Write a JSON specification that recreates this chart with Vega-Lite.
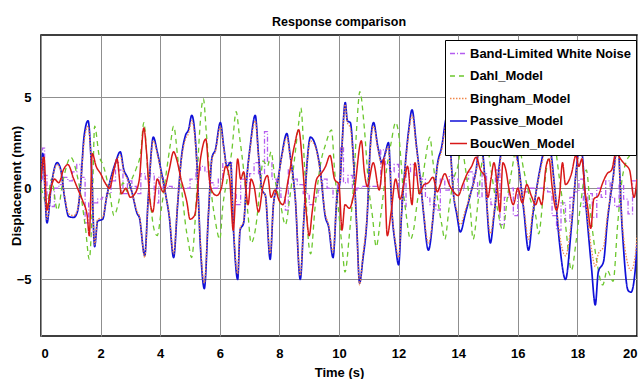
{
  "$schema": "https://vega.github.io/schema/vega-lite/v6.json",
  "width": 596,
  "height": 301,
  "autosize": {"type": "none"},
  "padding": {"left": 41, "top": 35, "right": 5, "bottom": 43},
  "background": "white",
  "title": {"text": "Response comparison", "fontSize": 12.5, "font": "Liberation Sans", "fontWeight": "bold", "color": "black", "offset": 7},
  "config": {
    "view": {"stroke": "black", "strokeWidth": 1.5},
    "axis": {
      "labelFont": "Liberation Sans", "labelFontWeight": "bold", "labelFontSize": 13, "labelColor": "black",
      "titleFont": "Liberation Sans", "titleFontWeight": "bold", "titleFontSize": 13, "titleColor": "black",
      "gridColor": "#8f8f8f", "gridWidth": 1, "gridOpacity": 1,
      "domain": false, "ticks": false
    },
    "legend": {
      "orient": "none", "legendX": 404, "legendY": 5,
      "strokeColor": "black", "fillColor": "white", "padding": 4,
      "labelFont": "Liberation Sans", "labelFontWeight": "bold", "labelFontSize": 13, "labelColor": "black", "labelLimit": 300,
      "symbolType": "stroke", "symbolSize": 290, "symbolStrokeWidth": 1.5, "rowPadding": 5.5, "labelOffset": 2
    }
  },
  "datasets": {
    "noise": [
      {"t":0.0,"v":0.5},{"t":0.05,"v":2.2},{"t":0.12,"v":0.7},{"t":0.2,"v":-0.6},{"t":0.3,"v":-1.0},{"t":0.45,"v":0.0},{"t":0.6,"v":0.2},{"t":0.75,"v":0.6},{"t":0.9,"v":0.4},{"t":1.05,"v":0.9},{"t":1.2,"v":1.3},{"t":1.35,"v":0.6},{"t":1.48,"v":-1.9},{"t":1.6,"v":-0.8},{"t":1.75,"v":-0.8},{"t":1.9,"v":-0.6},{"t":2.05,"v":-0.5},{"t":2.2,"v":-0.3},{"t":2.35,"v":0.4},{"t":2.5,"v":1.4},{"t":2.6,"v":1.0},{"t":2.75,"v":-0.3},{"t":2.9,"v":0.4},{"t":3.05,"v":0.1},{"t":3.2,"v":-0.3},{"t":3.35,"v":0.8},{"t":3.5,"v":0.5},{"t":3.65,"v":0.8},{"t":3.8,"v":-0.8},{"t":3.95,"v":0.6},{"t":4.1,"v":0.0},{"t":4.25,"v":0.1},{"t":4.4,"v":0.0},{"t":4.55,"v":0.0},{"t":4.7,"v":0.0},{"t":4.85,"v":0.0},{"t":5.0,"v":0.5},{"t":5.2,"v":1.0},{"t":5.35,"v":1.2},{"t":5.5,"v":0.9},{"t":5.65,"v":0.3},{"t":5.8,"v":0.0},{"t":5.95,"v":0.5},{"t":6.1,"v":1.4},{"t":6.25,"v":1.4},{"t":6.4,"v":-0.3},{"t":6.55,"v":-0.9},{"t":6.7,"v":0.5},{"t":6.85,"v":0.0},{"t":7.0,"v":0.8},{"t":7.15,"v":1.4},{"t":7.3,"v":0.8},{"t":7.5,"v":3.1},{"t":7.6,"v":1.4},{"t":7.75,"v":0.5},{"t":7.9,"v":0.0},{"t":8.05,"v":-0.5},{"t":8.2,"v":-1.2},{"t":8.3,"v":1.0},{"t":8.45,"v":0.5},{"t":8.6,"v":0.2},{"t":8.8,"v":-0.3},{"t":9.0,"v":-0.9},{"t":9.15,"v":-0.5},{"t":9.3,"v":-0.1},{"t":9.45,"v":0.5},{"t":9.6,"v":0.0},{"t":9.8,"v":-0.5},{"t":9.95,"v":0.3},{"t":10.05,"v":2.3},{"t":10.15,"v":0.3},{"t":10.3,"v":0.7},{"t":10.45,"v":-0.1},{"t":10.6,"v":0.0},{"t":10.8,"v":0.1},{"t":11.0,"v":0.1},{"t":11.2,"v":0.1},{"t":11.4,"v":2.1},{"t":11.55,"v":1.3},{"t":11.7,"v":0.9},{"t":11.85,"v":1.3},{"t":12.0,"v":-0.5},{"t":12.1,"v":-1.0},{"t":12.25,"v":0.8},{"t":12.4,"v":1.3},{"t":12.55,"v":0.7},{"t":12.75,"v":0.5},{"t":12.9,"v":-0.5},{"t":13.05,"v":-0.9},{"t":13.25,"v":-1.2},{"t":13.4,"v":0.5},{"t":13.55,"v":-0.1},{"t":13.7,"v":0.7},{"t":13.85,"v":0.5},{"t":14.0,"v":-0.1},{"t":14.2,"v":0.5},{"t":14.35,"v":0.9},{"t":14.5,"v":0.3},{"t":14.65,"v":-0.5},{"t":14.8,"v":0.8},{"t":14.95,"v":-0.6},{"t":15.1,"v":-0.9},{"t":15.25,"v":1.0},{"t":15.4,"v":-2.0},{"t":15.55,"v":-0.5},{"t":15.7,"v":0.0},{"t":15.85,"v":-1.5},{"t":16.0,"v":0.0},{"t":16.2,"v":-0.2},{"t":16.4,"v":0.0},{"t":16.6,"v":0.0},{"t":16.8,"v":0.0},{"t":17.0,"v":-0.2},{"t":17.15,"v":-1.5},{"t":17.3,"v":-2.3},{"t":17.45,"v":-0.8},{"t":17.6,"v":-1.8},{"t":17.75,"v":-0.5},{"t":17.9,"v":-0.2},{"t":18.05,"v":0.5},{"t":18.2,"v":-1.0},{"t":18.35,"v":-0.3},{"t":18.5,"v":-1.6},{"t":18.65,"v":0.0},{"t":18.8,"v":-0.5},{"t":18.95,"v":0.4},{"t":19.1,"v":-0.5},{"t":19.25,"v":-1.0},{"t":19.4,"v":0.2},{"t":19.55,"v":-0.6},{"t":19.7,"v":-1.4},{"t":19.85,"v":0.4},{"t":20.0,"v":0.0}
    ],
    "dahl": [
      {"t":0.0,"v":0.0},{"t":0.1,"v":-0.5},{"t":0.2,"v":-1.0},{"t":0.35,"v":0.5},{"t":0.55,"v":-1.2},{"t":0.75,"v":0.5},{"t":1.0,"v":1.7},{"t":1.2,"v":0.8},{"t":1.35,"v":-0.5},{"t":1.5,"v":-2.3},{"t":1.62,"v":-3.9},{"t":1.72,"v":-1.0},{"t":1.8,"v":3.4},{"t":1.95,"v":1.8},{"t":2.1,"v":1.2},{"t":2.3,"v":-0.2},{"t":2.45,"v":-1.5},{"t":2.6,"v":-0.8},{"t":2.75,"v":0.3},{"t":2.9,"v":-0.2},{"t":3.05,"v":0.5},{"t":3.2,"v":1.1},{"t":3.35,"v":2.0},{"t":3.45,"v":3.6},{"t":3.6,"v":0.5},{"t":3.8,"v":-2.3},{"t":3.9,"v":-2.6},{"t":4.05,"v":-1.0},{"t":4.2,"v":0.8},{"t":4.35,"v":2.5},{"t":4.45,"v":3.4},{"t":4.6,"v":1.5},{"t":4.75,"v":-0.5},{"t":4.85,"v":-2.0},{"t":4.95,"v":-3.0},{"t":5.05,"v":-3.8},{"t":5.2,"v":-1.0},{"t":5.3,"v":2.5},{"t":5.45,"v":4.9},{"t":5.55,"v":3.0},{"t":5.7,"v":0.0},{"t":5.85,"v":-1.8},{"t":6.0,"v":-2.8},{"t":6.1,"v":-1.0},{"t":6.25,"v":0.5},{"t":6.4,"v":2.0},{"t":6.55,"v":4.2},{"t":6.65,"v":3.0},{"t":6.8,"v":1.0},{"t":6.95,"v":-1.5},{"t":7.05,"v":-3.0},{"t":7.2,"v":-2.2},{"t":7.35,"v":0.0},{"t":7.45,"v":1.5},{"t":7.6,"v":1.2},{"t":7.72,"v":2.0},{"t":7.85,"v":0.5},{"t":8.05,"v":-1.0},{"t":8.2,"v":-2.0},{"t":8.35,"v":-0.5},{"t":8.5,"v":1.5},{"t":8.65,"v":3.6},{"t":8.72,"v":4.4},{"t":8.85,"v":1.0},{"t":8.98,"v":-3.0},{"t":9.05,"v":-3.6},{"t":9.2,"v":-1.0},{"t":9.4,"v":1.5},{"t":9.55,"v":2.4},{"t":9.75,"v":3.2},{"t":9.85,"v":1.0},{"t":10.0,"v":-1.5},{"t":10.12,"v":-3.5},{"t":10.2,"v":-4.6},{"t":10.35,"v":-2.5},{"t":10.5,"v":0.5},{"t":10.6,"v":3.5},{"t":10.7,"v":5.3},{"t":10.85,"v":3.3},{"t":11.0,"v":0.0},{"t":11.12,"v":-1.5},{"t":11.25,"v":-3.2},{"t":11.4,"v":-1.5},{"t":11.55,"v":0.5},{"t":11.75,"v":2.5},{"t":11.9,"v":3.6},{"t":12.0,"v":3.0},{"t":12.15,"v":0.0},{"t":12.25,"v":-1.4},{"t":12.4,"v":-2.8},{"t":12.5,"v":-2.3},{"t":12.65,"v":-0.5},{"t":12.8,"v":0.5},{"t":12.9,"v":1.6},{"t":13.05,"v":2.8},{"t":13.15,"v":1.5},{"t":13.3,"v":-0.5},{"t":13.45,"v":-2.0},{"t":13.55,"v":-2.8},{"t":13.7,"v":-1.0},{"t":13.85,"v":0.5},{"t":14.0,"v":1.3},{"t":14.1,"v":2.3},{"t":14.25,"v":1.0},{"t":14.4,"v":-1.0},{"t":14.5,"v":-2.8},{"t":14.65,"v":-1.0},{"t":14.8,"v":1.5},{"t":14.95,"v":2.5},{"t":15.1,"v":1.0},{"t":15.3,"v":-1.0},{"t":15.5,"v":-2.3},{"t":15.65,"v":-0.5},{"t":15.8,"v":1.0},{"t":16.0,"v":2.5},{"t":16.2,"v":1.0},{"t":16.4,"v":-0.5},{"t":16.6,"v":-1.5},{"t":16.7,"v":-2.5},{"t":16.85,"v":-0.5},{"t":17.0,"v":1.5},{"t":17.2,"v":2.5},{"t":17.4,"v":0.5},{"t":17.6,"v":-2.0},{"t":17.8,"v":-4.5},{"t":17.95,"v":-3.0},{"t":18.1,"v":-1.0},{"t":18.3,"v":1.0},{"t":18.45,"v":-1.5},{"t":18.65,"v":-4.0},{"t":18.85,"v":-5.3},{"t":19.0,"v":-4.5},{"t":19.2,"v":-5.1},{"t":19.35,"v":-2.0},{"t":19.5,"v":0.5},{"t":19.65,"v":1.5},{"t":19.8,"v":2.0},{"t":19.9,"v":3.7},{"t":20.0,"v":5.0}
    ],
    "bingham": [
      {"t":0.0,"v":0.3},{"t":0.06,"v":1.7},{"t":0.2,"v":-1.7},{"t":0.35,"v":0.2},{"t":0.54,"v":1.3},{"t":0.65,"v":1.0},{"t":0.8,"v":-0.5},{"t":0.93,"v":-1.4},{"t":1.1,"v":-1.5},{"t":1.22,"v":-1.2},{"t":1.32,"v":0.0},{"t":1.45,"v":2.6},{"t":1.58,"v":3.4},{"t":1.7,"v":0.9},{"t":1.8,"v":-3.1},{"t":1.9,"v":-1.7},{"t":2.07,"v":-1.6},{"t":2.2,"v":-0.5},{"t":2.35,"v":0.5},{"t":2.5,"v":1.3},{"t":2.66,"v":1.8},{"t":2.78,"v":0.9},{"t":2.9,"v":0.5},{"t":3.05,"v":-0.2},{"t":3.23,"v":-1.3},{"t":3.3,"v":-1.5},{"t":3.48,"v":-3.8},{"t":3.6,"v":-0.5},{"t":3.77,"v":2.6},{"t":3.9,"v":1.9},{"t":4.05,"v":0.7},{"t":4.2,"v":-0.5},{"t":4.3,"v":-1.4},{"t":4.45,"v":-3.6},{"t":4.58,"v":-0.9},{"t":4.7,"v":1.4},{"t":4.85,"v":2.7},{"t":4.95,"v":3.0},{"t":5.06,"v":3.7},{"t":5.23,"v":1.3},{"t":5.35,"v":-3.0},{"t":5.48,"v":-5.2},{"t":5.62,"v":-1.3},{"t":5.74,"v":1.6},{"t":5.85,"v":2.0},{"t":6.02,"v":3.4},{"t":6.13,"v":2.2},{"t":6.24,"v":1.1},{"t":6.36,"v":1.3},{"t":6.46,"v":-2.1},{"t":6.6,"v":-4.7},{"t":6.68,"v":-2.2},{"t":6.8,"v":-1.8},{"t":6.9,"v":0.4},{"t":7.02,"v":2.2},{"t":7.19,"v":3.7},{"t":7.3,"v":1.7},{"t":7.42,"v":-0.1},{"t":7.53,"v":-0.4},{"t":7.69,"v":-3.6},{"t":7.8,"v":-0.9},{"t":7.92,"v":0.1},{"t":8.08,"v":1.7},{"t":8.25,"v":2.8},{"t":8.36,"v":1.7},{"t":8.53,"v":-0.5},{"t":8.7,"v":-4.8},{"t":8.82,"v":-1.6},{"t":8.93,"v":1.3},{"t":9.04,"v":2.6},{"t":9.2,"v":2.3},{"t":9.37,"v":0.9},{"t":9.54,"v":-1.4},{"t":9.65,"v":-2.0},{"t":9.8,"v":-3.5},{"t":9.93,"v":-0.5},{"t":10.04,"v":0.4},{"t":10.1,"v":2.2},{"t":10.21,"v":4.6},{"t":10.28,"v":3.6},{"t":10.38,"v":3.3},{"t":10.49,"v":1.3},{"t":10.6,"v":-2.3},{"t":10.69,"v":-5.3},{"t":10.8,"v":-3.7},{"t":10.95,"v":-1.3},{"t":11.05,"v":2.1},{"t":11.16,"v":3.4},{"t":11.3,"v":2.2},{"t":11.44,"v":1.3},{"t":11.55,"v":1.8},{"t":11.66,"v":2.3},{"t":11.78,"v":-1.3},{"t":11.9,"v":-3.0},{"t":12.0,"v":-3.8},{"t":12.1,"v":-1.3},{"t":12.23,"v":1.3},{"t":12.34,"v":3.0},{"t":12.45,"v":4.0},{"t":12.6,"v":2.2},{"t":12.73,"v":0.4},{"t":12.84,"v":-1.3},{"t":13.0,"v":-3.0},{"t":13.15,"v":-1.6},{"t":13.28,"v":0.9},{"t":13.45,"v":2.1},{"t":13.62,"v":3.6},{"t":13.73,"v":2.1},{"t":13.84,"v":-0.3},{"t":13.95,"v":-1.2},{"t":14.07,"v":-2.0},{"t":14.24,"v":-1.2},{"t":14.4,"v":-0.4},{"t":14.6,"v":0.9},{"t":14.75,"v":2.5},{"t":14.9,"v":0.4},{"t":15.08,"v":-2.5},{"t":15.2,"v":-1.3},{"t":15.4,"v":1.3},{"t":15.6,"v":3.0},{"t":15.85,"v":2.2},{"t":16.0,"v":1.3},{"t":16.2,"v":-1.0},{"t":16.36,"v":-2.8},{"t":16.5,"v":-1.3},{"t":16.8,"v":1.3},{"t":17.0,"v":2.4},{"t":17.25,"v":-0.2},{"t":17.4,"v":-2.5},{"t":17.6,"v":-3.7},{"t":17.8,"v":-1.8},{"t":17.95,"v":0.7},{"t":18.1,"v":2.1},{"t":18.3,"v":-1.0},{"t":18.47,"v":-3.3},{"t":18.6,"v":-4.3},{"t":18.7,"v":-3.6},{"t":18.88,"v":-3.2},{"t":19.0,"v":-1.6},{"t":19.2,"v":0.5},{"t":19.35,"v":2.1},{"t":19.5,"v":-1.8},{"t":19.7,"v":-4.2},{"t":19.8,"v":-4.5},{"t":19.95,"v":-3.6},{"t":20.0,"v":-2.6}
    ],
    "passive": [
      {"t":0.0,"v":0.3},{"t":0.06,"v":1.9},{"t":0.2,"v":-1.9},{"t":0.35,"v":0.2},{"t":0.54,"v":1.4},{"t":0.65,"v":1.1},{"t":0.8,"v":-0.6},{"t":0.93,"v":-1.55},{"t":1.1,"v":-1.6},{"t":1.22,"v":-1.3},{"t":1.32,"v":0.0},{"t":1.45,"v":2.9},{"t":1.58,"v":3.7},{"t":1.7,"v":0.9},{"t":1.8,"v":-3.2},{"t":1.9,"v":-1.8},{"t":2.07,"v":-1.7},{"t":2.2,"v":-0.5},{"t":2.35,"v":0.6},{"t":2.5,"v":1.4},{"t":2.66,"v":2.0},{"t":2.78,"v":1.0},{"t":2.9,"v":0.6},{"t":3.05,"v":-0.2},{"t":3.23,"v":-1.4},{"t":3.3,"v":-1.6},{"t":3.48,"v":-3.7},{"t":3.6,"v":-0.5},{"t":3.77,"v":2.8},{"t":3.9,"v":2.0},{"t":4.05,"v":0.8},{"t":4.2,"v":-0.5},{"t":4.3,"v":-1.5},{"t":4.45,"v":-3.8},{"t":4.58,"v":-1.0},{"t":4.7,"v":1.5},{"t":4.85,"v":2.9},{"t":4.95,"v":3.2},{"t":5.06,"v":4.0},{"t":5.23,"v":1.4},{"t":5.35,"v":-3.2},{"t":5.48,"v":-5.5},{"t":5.62,"v":-1.4},{"t":5.74,"v":1.7},{"t":5.85,"v":2.1},{"t":6.02,"v":3.6},{"t":6.13,"v":2.3},{"t":6.24,"v":1.2},{"t":6.36,"v":1.4},{"t":6.46,"v":-2.3},{"t":6.6,"v":-5.0},{"t":6.68,"v":-2.3},{"t":6.8,"v":-1.9},{"t":6.9,"v":0.45},{"t":7.02,"v":2.3},{"t":7.19,"v":4.0},{"t":7.3,"v":1.8},{"t":7.42,"v":-0.1},{"t":7.53,"v":-0.4},{"t":7.69,"v":-3.9},{"t":7.8,"v":-0.9},{"t":7.92,"v":0.1},{"t":8.08,"v":1.8},{"t":8.25,"v":3.0},{"t":8.36,"v":1.8},{"t":8.53,"v":-0.5},{"t":8.7,"v":-5.0},{"t":8.82,"v":-1.7},{"t":8.93,"v":1.4},{"t":9.04,"v":2.8},{"t":9.2,"v":2.4},{"t":9.37,"v":1.0},{"t":9.54,"v":-1.55},{"t":9.65,"v":-2.1},{"t":9.8,"v":-3.8},{"t":9.93,"v":-0.5},{"t":10.04,"v":0.45},{"t":10.1,"v":2.3},{"t":10.21,"v":4.7},{"t":10.28,"v":3.7},{"t":10.38,"v":3.6},{"t":10.49,"v":1.4},{"t":10.6,"v":-2.3},{"t":10.69,"v":-5.2},{"t":10.8,"v":-3.9},{"t":10.95,"v":-1.4},{"t":11.05,"v":2.3},{"t":11.16,"v":3.6},{"t":11.3,"v":2.3},{"t":11.44,"v":1.4},{"t":11.55,"v":1.9},{"t":11.66,"v":2.5},{"t":11.78,"v":-1.4},{"t":11.9,"v":-3.2},{"t":12.0,"v":-4.2},{"t":12.1,"v":-1.4},{"t":12.23,"v":1.4},{"t":12.34,"v":3.2},{"t":12.45,"v":4.3},{"t":12.6,"v":2.3},{"t":12.73,"v":0.45},{"t":12.84,"v":-1.4},{"t":13.0,"v":-3.4},{"t":13.15,"v":-1.7},{"t":13.28,"v":1.0},{"t":13.45,"v":2.3},{"t":13.62,"v":3.9},{"t":13.73,"v":2.3},{"t":13.84,"v":-0.3},{"t":13.95,"v":-1.4},{"t":14.07,"v":-2.4},{"t":14.24,"v":-1.4},{"t":14.4,"v":-0.4},{"t":14.6,"v":1.0},{"t":14.75,"v":2.8},{"t":14.9,"v":0.5},{"t":15.08,"v":-3.0},{"t":15.2,"v":-1.5},{"t":15.4,"v":1.5},{"t":15.6,"v":3.5},{"t":15.85,"v":2.5},{"t":16.0,"v":1.5},{"t":16.2,"v":-1.2},{"t":16.36,"v":-3.4},{"t":16.5,"v":-1.5},{"t":16.8,"v":1.5},{"t":17.0,"v":2.8},{"t":17.25,"v":-0.2},{"t":17.4,"v":-3.0},{"t":17.6,"v":-5.0},{"t":17.8,"v":-2.1},{"t":17.95,"v":0.8},{"t":18.1,"v":2.5},{"t":18.3,"v":-1.2},{"t":18.47,"v":-4.3},{"t":18.6,"v":-6.4},{"t":18.7,"v":-4.6},{"t":18.88,"v":-4.0},{"t":19.0,"v":-1.9},{"t":19.2,"v":0.6},{"t":19.35,"v":2.5},{"t":19.5,"v":-2.1},{"t":19.7,"v":-5.6},{"t":19.8,"v":-5.7},{"t":19.95,"v":-4.3},{"t":20.0,"v":-3.0}
    ],
    "boucwen": [
      {"t":0.0,"v":0.5},{"t":0.1,"v":1.7},{"t":0.2,"v":-1.2},{"t":0.3,"v":-0.3},{"t":0.45,"v":0.5},{"t":0.6,"v":0.3},{"t":0.75,"v":1.0},{"t":0.9,"v":1.3},{"t":1.1,"v":0.5},{"t":1.25,"v":-0.1},{"t":1.4,"v":-0.7},{"t":1.55,"v":-1.5},{"t":1.62,"v":-2.6},{"t":1.72,"v":1.9},{"t":1.85,"v":1.2},{"t":2.0,"v":0.8},{"t":2.15,"v":0.3},{"t":2.3,"v":0.0},{"t":2.45,"v":1.0},{"t":2.55,"v":1.6},{"t":2.7,"v":-0.3},{"t":2.85,"v":0.0},{"t":3.0,"v":-0.5},{"t":3.15,"v":-0.3},{"t":3.3,"v":0.5},{"t":3.45,"v":3.3},{"t":3.55,"v":1.8},{"t":3.65,"v":-0.6},{"t":3.75,"v":-1.3},{"t":3.9,"v":0.5},{"t":4.1,"v":-0.2},{"t":4.3,"v":1.0},{"t":4.45,"v":2.0},{"t":4.55,"v":1.6},{"t":4.7,"v":0.5},{"t":4.9,"v":-0.8},{"t":5.0,"v":-1.7},{"t":5.15,"v":-1.5},{"t":5.36,"v":1.7},{"t":5.53,"v":2.7},{"t":5.65,"v":0.5},{"t":5.75,"v":-0.2},{"t":5.9,"v":-0.4},{"t":6.05,"v":0.0},{"t":6.2,"v":1.2},{"t":6.33,"v":0.5},{"t":6.45,"v":-2.3},{"t":6.6,"v":1.6},{"t":6.7,"v":0.5},{"t":6.8,"v":0.9},{"t":6.95,"v":-0.9},{"t":7.05,"v":0.5},{"t":7.15,"v":0.1},{"t":7.3,"v":-1.3},{"t":7.45,"v":0.1},{"t":7.6,"v":0.7},{"t":7.72,"v":-0.5},{"t":7.85,"v":-0.1},{"t":8.0,"v":-0.7},{"t":8.12,"v":-0.9},{"t":8.3,"v":0.5},{"t":8.5,"v":2.3},{"t":8.65,"v":3.2},{"t":8.78,"v":1.2},{"t":8.9,"v":-1.3},{"t":9.0,"v":-2.6},{"t":9.1,"v":-1.3},{"t":9.25,"v":0.5},{"t":9.4,"v":0.8},{"t":9.55,"v":1.2},{"t":9.7,"v":1.8},{"t":9.85,"v":0.5},{"t":10.0,"v":0.2},{"t":10.1,"v":-2.3},{"t":10.2,"v":-0.9},{"t":10.35,"v":-1.1},{"t":10.5,"v":-0.3},{"t":10.75,"v":2.6},{"t":10.85,"v":0.9},{"t":10.95,"v":0.1},{"t":11.15,"v":1.4},{"t":11.35,"v":-0.1},{"t":11.5,"v":1.6},{"t":11.62,"v":-2.6},{"t":11.75,"v":-1.3},{"t":11.9,"v":0.5},{"t":12.05,"v":-0.6},{"t":12.2,"v":0.5},{"t":12.3,"v":1.2},{"t":12.45,"v":-0.9},{"t":12.55,"v":1.4},{"t":12.7,"v":-0.3},{"t":12.85,"v":0.2},{"t":13.0,"v":0.3},{"t":13.15,"v":0.6},{"t":13.3,"v":-0.2},{"t":13.4,"v":0.2},{"t":13.55,"v":0.8},{"t":13.7,"v":0.2},{"t":13.85,"v":-0.2},{"t":14.0,"v":-0.4},{"t":14.15,"v":0.2},{"t":14.3,"v":0.8},{"t":14.45,"v":1.2},{"t":14.6,"v":1.7},{"t":14.75,"v":1.0},{"t":14.9,"v":0.6},{"t":15.0,"v":-0.5},{"t":15.1,"v":0.5},{"t":15.2,"v":1.4},{"t":15.3,"v":0.3},{"t":15.4,"v":-1.3},{"t":15.5,"v":1.4},{"t":15.6,"v":1.0},{"t":15.7,"v":0.0},{"t":15.85,"v":-0.9},{"t":16.0,"v":0.0},{"t":16.15,"v":-0.8},{"t":16.3,"v":0.2},{"t":16.45,"v":-0.4},{"t":16.6,"v":-0.9},{"t":16.7,"v":-0.5},{"t":16.8,"v":-0.9},{"t":16.95,"v":1.2},{"t":17.05,"v":1.6},{"t":17.15,"v":0.1},{"t":17.3,"v":-1.2},{"t":17.4,"v":-0.4},{"t":17.5,"v":1.4},{"t":17.6,"v":0.2},{"t":17.8,"v":0.8},{"t":17.95,"v":1.8},{"t":18.05,"v":1.2},{"t":18.15,"v":1.6},{"t":18.25,"v":-0.1},{"t":18.35,"v":-1.1},{"t":18.45,"v":-2.2},{"t":18.55,"v":-0.6},{"t":18.7,"v":-0.4},{"t":18.85,"v":0.3},{"t":19.0,"v":0.8},{"t":19.15,"v":1.0},{"t":19.3,"v":2.0},{"t":19.45,"v":1.6},{"t":19.6,"v":1.3},{"t":19.75,"v":1.0},{"t":19.9,"v":-0.5},{"t":20.0,"v":0.5}
    ]
  },
  "encoding": {
    "x": {"field": "t", "type": "quantitative", "scale": {"domain": [0, 20], "nice": false, "zero": false}, "axis": {"values": [0,2,4,6,8,10,12,14,16,18,20], "title": "Time (s)", "labelPadding": 11, "titlePadding": 6}},
    "y": {"field": "v", "type": "quantitative", "scale": {"domain": [-8.1, 8.4], "nice": false, "zero": false}, "axis": {"values": [-5, 0, 5], "title": "Displacement (mm)", "labelPadding": 10, "titleX": -25, "titleBaseline": "middle"}}
  },
  "layer": [
    {"data": {"name": "noise"}, "mark": {"type": "line", "strokeWidth": 1.3, "interpolate": "step-after", "clip": true},
     "encoding": {
       "color": {"datum": "Band-Limited White Noise", "type": "nominal", "scale": {"domain": ["Band-Limited White Noise", "Dahl_Model", "Bingham_Model", "Passive_Model", "BoucWen_Model"], "range": ["#b45cf0", "#6cc72e", "#f0874a", "#1010d8", "#d81818"]}, "legend": {"title": null}},
       "strokeDash": {"datum": "Band-Limited White Noise", "type": "nominal", "scale": {"domain": ["Band-Limited White Noise", "Dahl_Model", "Bingham_Model", "Passive_Model", "BoucWen_Model"], "range": [[5,2,1,2],[5,4],[1.5,1.5],[1,0],[1,0]]}, "legend": {"title": null}}
     }},
    {"data": {"name": "dahl"}, "mark": {"type": "line", "strokeWidth": 1.3, "interpolate": "monotone", "clip": true},
     "encoding": {"color": {"datum": "Dahl_Model", "type": "nominal"}, "strokeDash": {"datum": "Dahl_Model", "type": "nominal"}}},
    {"data": {"name": "passive"}, "mark": {"type": "line", "strokeWidth": 1.7, "interpolate": "monotone", "clip": true},
     "encoding": {"color": {"datum": "Passive_Model", "type": "nominal"}, "strokeDash": {"datum": "Passive_Model", "type": "nominal"}}},
    {"data": {"name": "bingham"}, "mark": {"type": "line", "strokeWidth": 1.3, "interpolate": "monotone", "clip": true},
     "encoding": {"color": {"datum": "Bingham_Model", "type": "nominal"}, "strokeDash": {"datum": "Bingham_Model", "type": "nominal"}}},
    {"data": {"name": "boucwen"}, "mark": {"type": "line", "strokeWidth": 1.5, "interpolate": "monotone", "clip": true},
     "encoding": {"color": {"datum": "BoucWen_Model", "type": "nominal"}, "strokeDash": {"datum": "BoucWen_Model", "type": "nominal"}}}
  ]
}
